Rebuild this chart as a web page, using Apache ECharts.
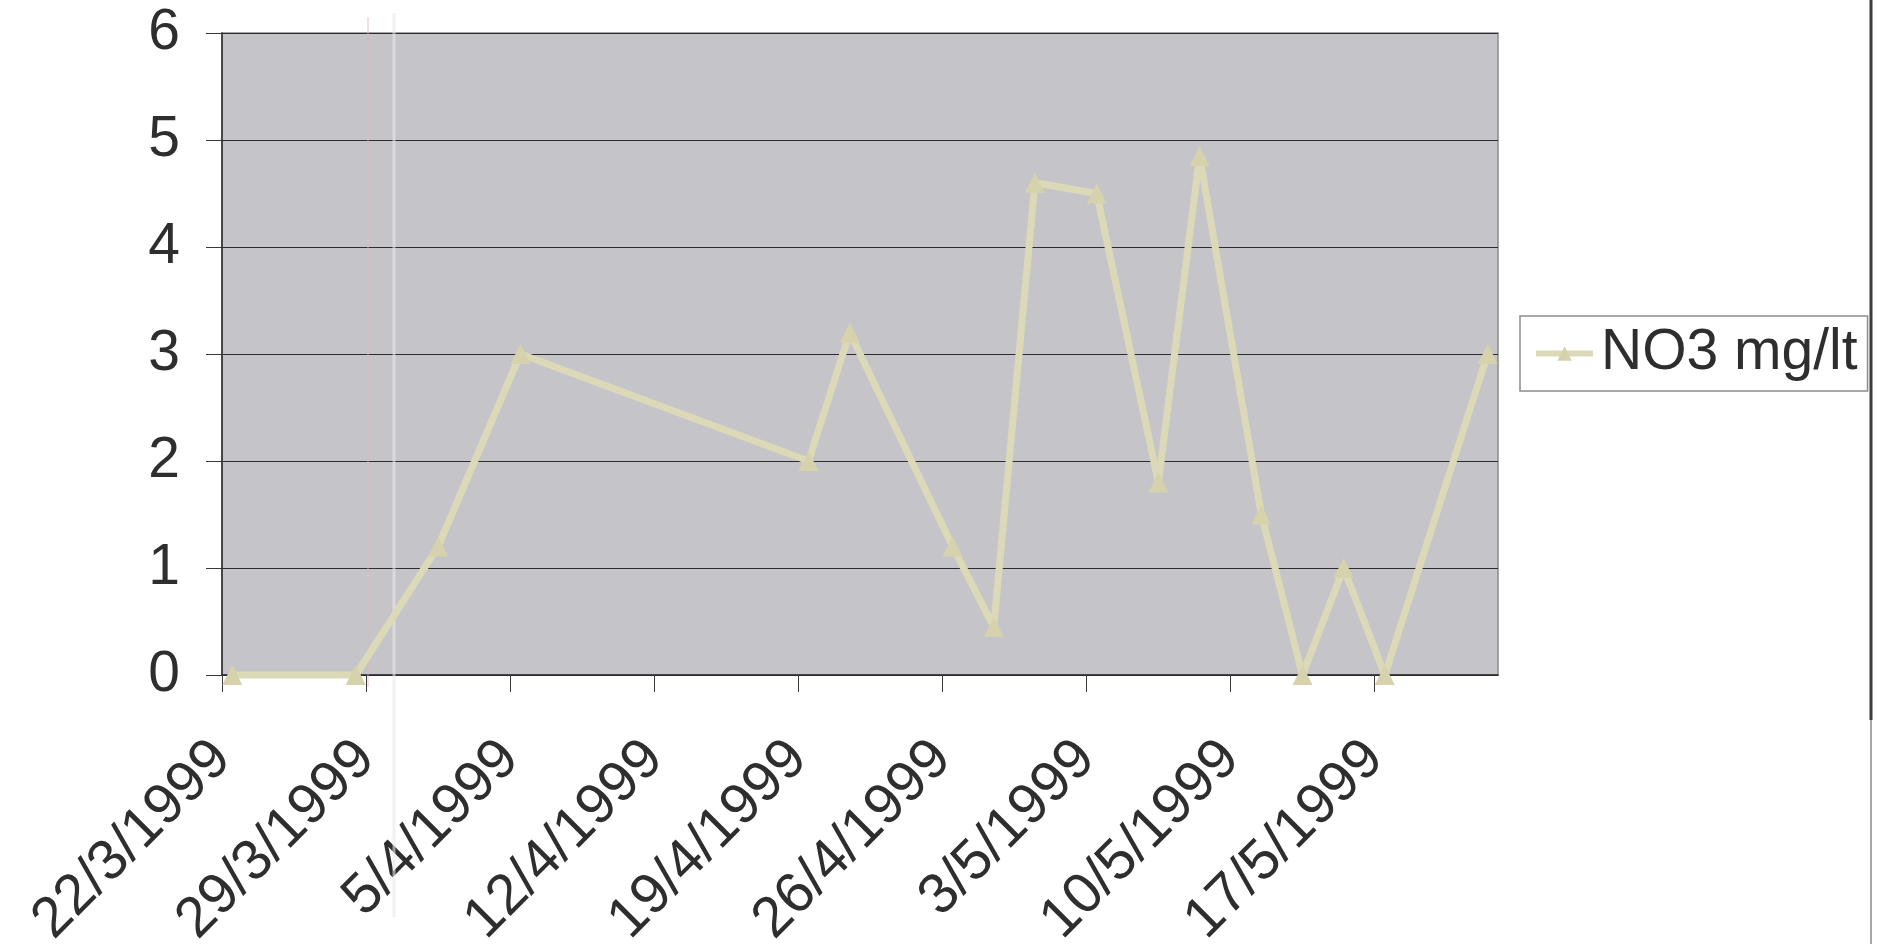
<!DOCTYPE html>
<html>
<head>
<meta charset="utf-8">
<script src="https://cdn.jsdelivr.net/npm/echarts@6/dist/echarts.min.js"></script>
<style>
  html, body { margin: 0; padding: 0; background: #ffffff; }
  #chart { width: 1877px; height: 944px; }
</style>
</head>
<body>
<div id="chart"></div>
<script>
// Sampling dates and nitrate readings (mg/lt)
const sampleDates = ['22/3/1999', '28/3/1999', '1/4/1999', '5/4/1999', '19/4/1999', '21/4/1999',
  '26/4/1999', '28/4/1999', '30/4/1999', '3/5/1999', '6/5/1999', '8/5/1999', '11/5/1999',
  '13/5/1999', '15/5/1999', '17/5/1999', '22/5/1999'];
const no3 = [0, 0, 1.2, 3.0, 2.0, 3.2, 1.2, 0.45, 4.6, 4.5, 1.8, 4.85, 1.5, 0, 1.0, 0, 3.0];

// Weekly tick labels and the end of the date axis
const tickDates = ['22/3/1999', '29/3/1999', '5/4/1999', '12/4/1999', '19/4/1999',
  '26/4/1999', '3/5/1999', '10/5/1999', '17/5/1999'];
const axisEnd = '23/5/1999';
const seriesName = 'NO3 mg/lt';

function dayNumber(s) {
  const [d, m, y] = s.split('/').map(Number);
  return Date.UTC(y, m - 1, d) / 86400000;
}
const origin = dayNumber(tickDates[0]);
const dayOffset = s => dayNumber(s) - origin;

// each reading sits in the middle of its own day slot
const points = sampleDates.map((s, i) => [dayOffset(s) + 0.5, no3[i]]);
const tickPos = tickDates.map(dayOffset);
const labelAt = {};
tickDates.forEach((s, i) => { labelAt[tickPos[i]] = s; });

const FONT = '"Liberation Sans", Arial, sans-serif';
const INK = '#2e2e2e';
const LINE = '#dcd9b8';

const chart = echarts.init(document.getElementById('chart'), null, { renderer: 'canvas' });
chart.setOption({
  backgroundColor: '#ffffff',
  animation: false,
  textStyle: { fontFamily: FONT },
  grid: {
    left: 222, top: 33, width: 1276, height: 642,
    outerBoundsMode: 'none',
    containLabel: false,
    show: true,
    backgroundColor: '#c5c5c9',
    borderColor: '#8a8a8a',
    borderWidth: 1.5
  },
  legend: {
    data: [seriesName],
    orient: 'vertical',
    left: 1520, top: 316,
    padding: [9, 10, 9, 13],
    backgroundColor: '#ffffff',
    borderColor: '#8c8c8c',
    borderWidth: 1.5,
    borderRadius: 0,
    itemWidth: 57,
    itemHeight: 18,
    itemGap: 0,
    lineStyle: { width: 6, color: LINE },
    textStyle: { fontFamily: FONT, fontSize: 57, color: INK, lineHeight: 56, padding: [0, 0, 0, 3] }
  },
  xAxis: {
    type: 'value',
    min: 0,
    max: dayOffset(axisEnd),
    splitLine: { show: false },
    axisLine: { show: true, onZero: false, lineStyle: { color: '#2a2a2a', width: 1.5 } },
    axisTick: {
      show: true, inside: false, length: 17,
      customValues: tickPos,
      lineStyle: { color: '#3a3a3a', width: 1 }
    },
    axisLabel: {
      customValues: tickPos,
      formatter: v => labelAt[v] || '',
      rotate: 45,
      margin: 75,
      fontFamily: FONT,
      fontSize: 57,
      color: INK
    }
  },
  yAxis: {
    type: 'value',
    min: 0, max: 6, interval: 1,
    axisLine: { show: true, lineStyle: { color: '#2a2a2a', width: 1.5 } },
    axisTick: { show: true, inside: false, length: 16, lineStyle: { color: '#3a3a3a', width: 1 } },
    splitLine: { show: true, lineStyle: { color: '#2c2c2c', width: 1.2 } },
    axisLabel: { margin: 42, fontFamily: FONT, fontSize: 57, color: INK }
  },
  series: [{
    name: seriesName,
    type: 'line',
    data: points,
    symbol: 'triangle',
    symbolSize: 20,
    lineStyle: { color: LINE, width: 7 },
    itemStyle: { color: '#d6d2ab' },
    clip: false,
    z: 3
  }],
  graphic: [
    // faint streaks running down the sheet near the second tick
    { type: 'line', silent: true, z: 1, shape: { x1: 394, y1: 13, x2: 394, y2: 917 },
      style: { stroke: 'rgba(232,230,236,0.6)', lineWidth: 3 } },
    { type: 'line', silent: true, z: 1, shape: { x1: 368, y1: 17, x2: 368, y2: 687 },
      style: { stroke: 'rgba(214,186,186,0.4)', lineWidth: 2 } },
    // outer frame edge on the right
    { type: 'line', silent: true, shape: { x1: 1871, y1: 0, x2: 1871, y2: 720 },
      style: { stroke: '#3c3c3c', lineWidth: 3 } },
    { type: 'line', silent: true, shape: { x1: 1871, y1: 720, x2: 1871, y2: 944 },
      style: { stroke: '#8a8a8a', lineWidth: 1.5 } }
  ]
});
</script>
</body>
</html>
